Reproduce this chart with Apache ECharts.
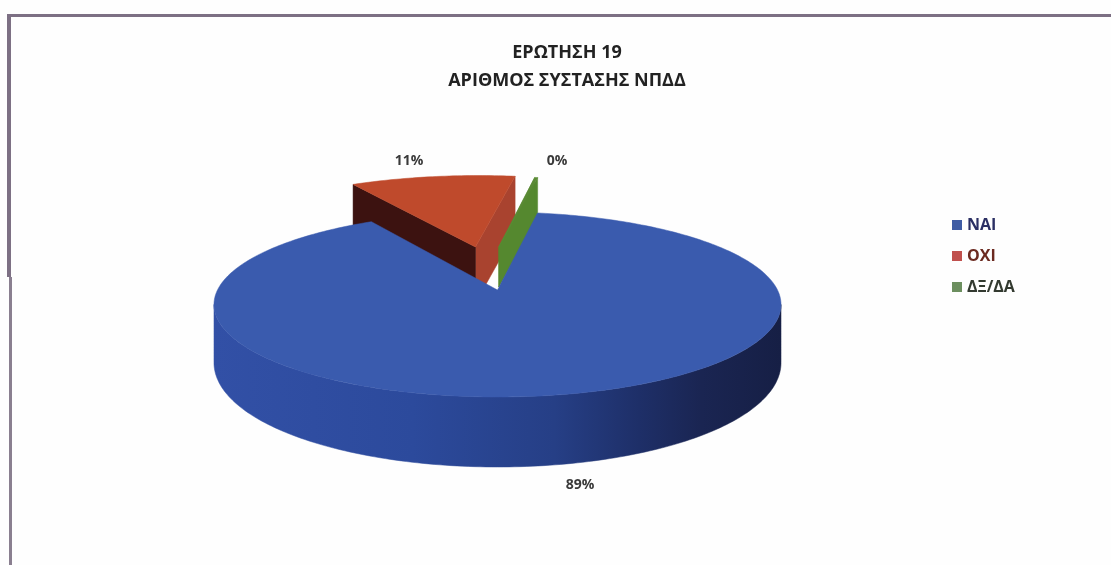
<!DOCTYPE html>
<html><head><meta charset="utf-8">
<style>html,body{margin:0;padding:0;background:#fefefe}#c{width:1111px;height:565px}</style>
<script src="https://cdn.jsdelivr.net/npm/echarts@6/dist/echarts.min.js"></script>
</head><body><div id="c"></div>
<script>
const titleLines = ['ΕΡΩΤΗΣΗ 19', 'ΑΡΙΘΜΟΣ ΣΥΣΤΑΣΗΣ ΝΠΔΔ'];
const categories = ['ΝΑΙ', 'ΟΧΙ', 'ΔΞ/ΔΑ'];
const values = [89, 11, 0.2];

// appearance of the tilted pie (projection and per-slice styling)
const view = {cx: 497.5, cy: 290, rx: 280, h: 90.2, p: 0.157, startAngle: 9.5};
const looks = [
  {z: 4, top: '#3a5bae', explode: [0, 0], scale: 1, label: [580, 485], wall: 0},
  {z: 2, top: '#bf4a2c', left: '#a9432f', right: '#3c1210', explode: [-0.085, 0.515], scale: 1.07, label: [409, 161], wall: 56},
  {z: 3, top: '#5a8a35', left: '#55882f', right: '#55882f', explode: [0.005, 0.515], scale: 1.05, label: [557, 161], wall: 40}
];
const legendColors = ['#3f5ca4', '#c0504d', '#6c8f5f'];
const legendText = ['#2b2f63', '#6b2a20', '#333a30'];

const total = values.reduce((a, b) => a + b, 0);
const rad = d => d * Math.PI / 180;
function project(X, Y) {
  const w = 1 + view.p * Y;
  return [view.cx + view.rx * X / w, view.cy - view.h * Y / w];
}
function rimXY(deg, off, scale) {
  return [scale * Math.sin(rad(deg)) + off[0], scale * Math.cos(rad(deg)) + off[1]];
}
function frontWall(Y) { return 56 - 14 * Y; }
const blueSide = new echarts.graphic.LinearGradient(214, 0, 781, 0, [
  {offset: 0, color: '#3250a6'}, {offset: 0.35, color: '#2c4a9c'}, {offset: 0.6, color: '#263f86'},
  {offset: 0.75, color: '#1e2f68'}, {offset: 0.86, color: '#1a2552'}, {offset: 1, color: '#161f45'}], true);

function sliceRange(i) {
  let a = view.startAngle;
  for (let k = 0; k < i; k++) a += values[k] / total * 360;
  return [a, a + values[i] / total * 360];
}
function renderSlice(params, api) {
  const i = api.value(0);
  const look = looks[i];
  const [a0, a1] = sliceRange(i);
  const off = look.explode;
  const apex = project(off[0], off[1]);
  const rim = [];
  const n = Math.max(2, Math.ceil(a1 - a0));
  for (let k = 0; k <= n; k++) {
    const a = a0 + (a1 - a0) * k / n;
    const q = rimXY(a, off, look.scale);
    rim.push(project(q[0], q[1]));
  }
  const kids = [];
  const poly = (points, fill) => kids.push({type: 'polygon', shape: {points}, style: {fill, stroke: fill, lineWidth: 0.5}});
  if (look.wall) {
    const down = pt => [pt[0], pt[1] + look.wall];
    const last = rim[rim.length - 1];
    poly([apex, last, down(last), down(apex)], look.left);
    poly([apex, rim[0], down(rim[0]), down(apex)], look.right);
  } else {
    const top = [], bottom = [];
    for (let a = 99; a <= 261; a += 1) {
      const q = rimXY(a, off, look.scale);
      const pt = project(q[0], q[1]);
      top.push(pt);
      bottom.unshift([pt[0], pt[1] + frontWall(q[1])]);
    }
    poly(top.concat(bottom), blueSide);
  }
  poly([apex].concat(rim), look.top);
  kids.push({type: 'text', style: {
    text: Math.round(values[i] / total * 100) + '%',
    x: look.label[0], y: look.label[1], align: 'center', verticalAlign: 'middle',
    font: 'bold 14px "Open Sans", sans-serif', fill: '#3a3a3a'}});
  return {type: 'group', children: kids};
}

const chart = echarts.init(document.getElementById('c'), null, {renderer: 'canvas'});
chart.setOption({
  animation: false,
  backgroundColor: '#fefefe',
  title: {
    text: titleLines.join('\n'), left: 562, top: 34, textAlign: 'center',
    textStyle: {fontFamily: '"Open Sans", sans-serif', fontWeight: 'bold', fontSize: 18, color: '#222', lineHeight: 28}
  },
  legend: {
    orient: 'vertical', left: 947, top: 212, itemWidth: 10, itemHeight: 10, itemGap: 15,
    icon: 'rect',
    data: categories.map((name, i) => ({name, textStyle: {color: legendText[i]}})),
    textStyle: {fontFamily: '"Open Sans", sans-serif', fontWeight: 'bold', fontSize: 16}
  },
  graphic: [
    {type: 'rect', shape: {x: 8, y: 14, width: 1103, height: 3}, style: {fill: '#7d7084'}, silent: true},
    {type: 'rect', shape: {x: 7, y: 14, width: 4, height: 263}, style: {fill: '#7d7084'}, silent: true},
    {type: 'rect', shape: {x: 9, y: 277, width: 3, height: 288}, style: {fill: '#8a7f90'}, silent: true}
  ],
  series: categories.map((name, i) => ({
    type: 'custom', name, coordinateSystem: 'none', z: looks[i].z,
    itemStyle: {color: legendColors[i]},
    data: [[i, values[i]]],
    renderItem: renderSlice
  }))
});
</script></body></html>
